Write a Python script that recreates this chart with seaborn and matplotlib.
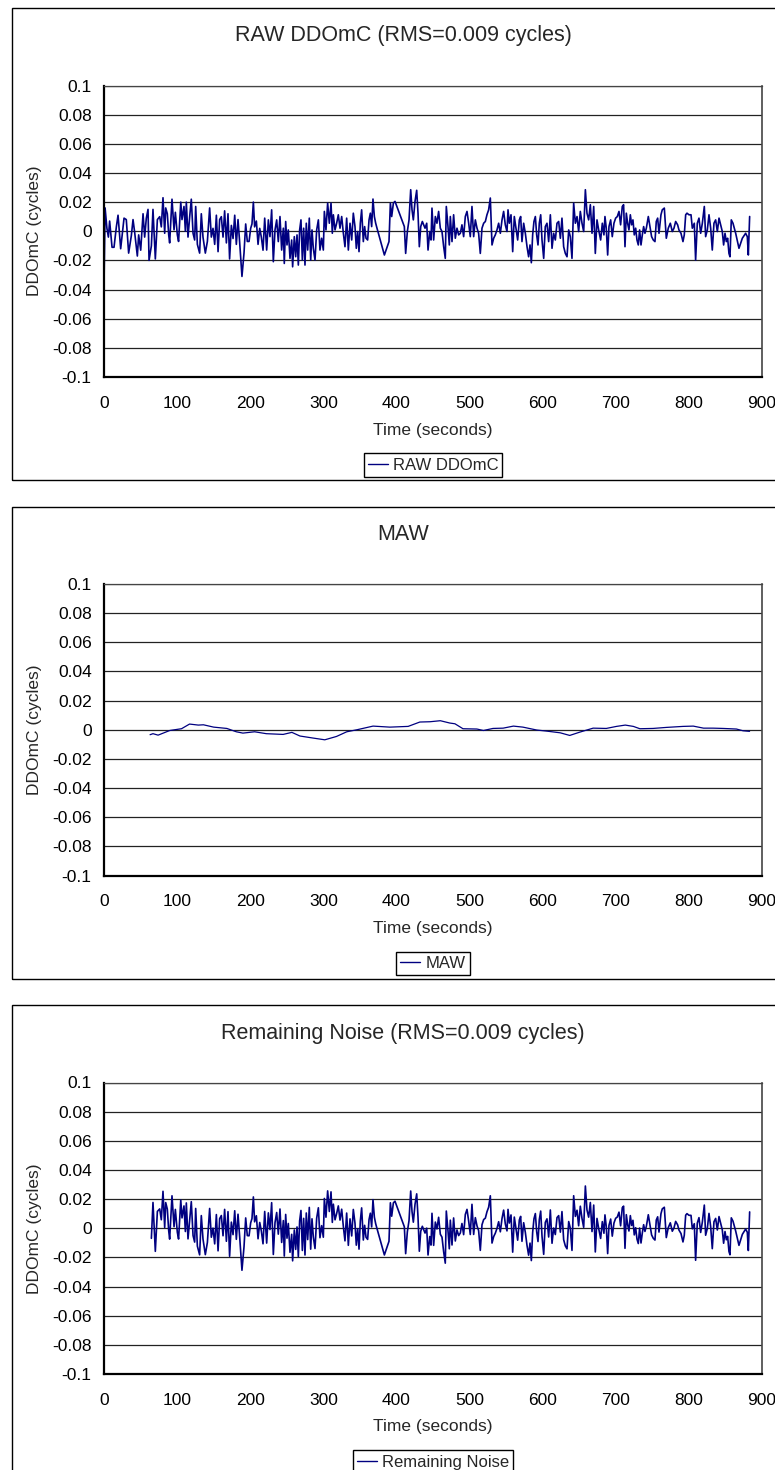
import numpy as np
import pandas as pd
import matplotlib
matplotlib.use("Agg")
import matplotlib.pyplot as plt
from matplotlib.patches import Rectangle
import seaborn as sns

# Raw double-difference observed-minus-computed phase (cycles) vs time (s)
raw_t = [0, 1.5, 4, 6, 7.7, 11, 13.7, 16.9, 19.2, 22.8, 26, 27.4, 30.5, 33.7, 37.4, 39.7,
         42, 45.6, 47.4, 50.2, 53.4, 55.6, 57.9, 60.2, 61.6, 64.8, 67, 70.2, 73, 76.2, 78.4,
         80.7, 83, 84.4, 86.6, 88.5, 89.8, 93, 95.8, 97.6, 100.3, 102, 105, 106.7, 109.4,
         111.3, 112.6, 114.9, 117.2, 119.4, 121.8, 124, 125.4, 127.7, 130.8, 133.1, 135.4,
         138.6, 141.4, 144.5, 146.8, 149.1, 151.4, 153.7, 156, 158.2, 160.5, 162.8, 165,
         167.4, 169.6, 171.8, 174.2, 176.5, 178.8, 181, 183.3, 185.6, 188.7, 191.5, 193.8,
         196, 198.4, 200.6, 202.4, 204.3, 206, 208.4, 210.7, 213, 215.2, 217.5, 219.8,
         222.5, 224.8, 227.0, 229.3, 231.6, 233.9, 236.2, 238.4, 240.7, 243.0, 245.3, 246.6,
         248.5, 250.3, 252.1, 254.4, 256.7, 258.0, 260.3, 262.2, 264.0, 265.8, 267.6, 269.4,
         271.3, 273.1, 274.9, 276.7, 278.6, 280.8, 282.7, 284.5, 286.3, 288.6, 290.9, 293.2,
         295.4, 297.7, 300.0, 301.4, 303.6, 305.9, 308.2, 310.5, 312.3, 313.7, 316.0, 318.2,
         320.5, 322.8, 325.1, 327.4, 329.6, 331.9, 334.2, 336.5, 338.8, 341.0, 343.3, 345.1,
         347.0, 348.8, 350.6, 352.4, 354.7, 356.5, 358.4, 360.6, 362.5, 364.3, 366.1, 367.9,
         369.8, 371.6, 373.4, 383.5, 389.8, 391.7, 393.5, 395.8, 398.0, 410.8, 412.6, 414.9,
         417.2, 419.5, 421.3, 423.1, 425.4, 427.7, 429.5, 431.3, 433.2, 435.4, 437.3, 439.1,
         441.4, 443.2, 445.5, 447.3,
         448.6, 450.9, 453.2, 455.4, 457.7, 460.0, 462.3, 464.6, 466.8, 468.2, 470.5, 472.3,
         473.7, 476.0, 478.2, 480.5, 482.8, 485.1, 487.4, 489.6, 491.9, 494.2, 496.5, 498.8,
         501.0, 503.3, 505.6, 507.9, 510.2, 512.4, 514.7, 517.0, 519.3, 521.6, 523.8, 526.1,
         528.4, 530.7, 533.0, 535.2, 537.5, 539.8, 542.1, 544.4, 546.6, 548.9, 551.2, 552.6,
         554.4, 556.7, 559.0, 561.2, 563.5, 565.8, 568.1, 569.9, 571.7, 574.0, 576.3, 578.6,
         580.8, 582.7, 584.5, 586.3, 588.1, 590.0, 591.8, 593.6, 595.4, 597.3, 599.1, 601.4,
         603.6, 605.9, 608.2, 610.5, 612.8, 615.0, 617.3, 619.6, 621.9, 624.2, 626.4, 628.7,
         631.0, 633.3, 635.6, 637.8, 640.1, 642.4, 644.7, 647.0, 649.2, 651.5, 653.8, 656.1,
         658.4, 660.6, 662.9, 665.2, 667.5, 669.8, 672.0, 674.3, 676.6,
         679.3, 681.6, 683.8, 685.2, 687.0, 688.9, 690.7, 693.0, 695.2, 697.5, 699.8, 702.1,
         704.4, 706.6, 708.9, 710.7, 712.6, 714.4, 716.2, 718.0, 719.9, 721.7, 723.5, 725.3,
         727.2, 729.0, 730.8, 732.6, 734.5, 736.3, 738.1, 739.9, 741.8, 744.5, 746.8, 749.0,
         751.3, 753.6, 755.4, 757.3, 759.1, 761.8, 763.6, 766.4, 769.1, 771.8, 774.6, 777.3,
         779.6, 781.9, 784.6, 786.4, 789.2, 791.9, 793.7, 795.6, 797.4, 800.1, 802.9, 804.7,
         807.4, 809.2, 811.5, 813.8, 816.1, 818.4, 821.1, 822.9, 825.2, 827.5, 829.8, 832.0,
         834.3, 836.6, 838.9, 841.2, 843.4, 845.7, 847.5, 849.4, 851.2, 853.0, 854.8, 856.2,
         858.0, 860.3, 864.0, 868.5, 873.1, 877.6, 879.9, 881.3, 883.1]
raw_v = [-0.037, 0.016, 0.002, -0.004, 0.007, -0.011, -0.011, 0.003, 0.011, -0.012, 0.003, 0.009,
         0.008, -0.015, -0.003, 0.008, -0.001, -0.017, -0.0025, -0.013, 0.012, -0.004, 0.009,
         0.015, -0.020, -0.010, 0.015, -0.019, 0.008, 0.010, 0.003, 0.023, -0.0014, 0.016,
         0.012, -0.0025, -0.008, 0.022, 0.001, 0.013, -0.0025, -0.007, 0.020, 0.008, 0.017,
         0.000, 0.020, -0.004, 0.010, 0.022, -0.0014, -0.006, 0.017, -0.009, -0.015, 0.012,
         -0.004, -0.015, -0.007, 0.016, -0.004, 0.002, -0.009, 0.011, -0.014, 0.008, 0.010,
         -0.004, 0.014, -0.008, 0.012, -0.019, 0.004, -0.005, 0.011, -0.009, 0.008, -0.008,
         -0.031, -0.015, 0.005, -0.007, -0.007, 0.002, 0.005, 0.020, 0.003, 0.007, -0.009,
         0.002, -0.004, -0.013, 0.009,
         -0.0129, 0.0078, -0.0037, 0.0147, -0.0209, 0.0009, 0.0078, -0.0071, 0.0101, -0.0129,
         0.0021, -0.0221, 0.0067, -0.0094, 0.0009, -0.0186, -0.0060, -0.0244, -0.0037, -0.0175,
         -0.0025, -0.0232, 0.0009, 0.0078, -0.0198, 0.0021, -0.0232, 0.0055, -0.0129, 0.0090,
         -0.0198, 0.0009, -0.0117, -0.0198, 0.0009, 0.0078, -0.0129, -0.0048, -0.0129, 0.0136,
         0.0009, 0.0193, 0.0055, 0.0193, -0.0014, 0.0113, 0.0009, 0.0055, 0.0113, 0.0021,
         0.0101, -0.0014, -0.0106, 0.0090, -0.0129, 0.0055, -0.0060, 0.0124, 0.0032, -0.0117,
         -0.0002, -0.0140, 0.0055, 0.0147, -0.0071, 0.0032, -0.0048, -0.0060, 0.0078, 0.0124,
         0.0032, 0.0221, 0.0101, 0.0055, 0.0021, -0.0163, -0.0071, 0.0193, 0.0101, 0.0193,
         0.0205, 0.0032, -0.0152, -0.0002, 0.0078, 0.0285, 0.0147, 0.0078, 0.0205, 0.0281,
         0.0124, -0.0106, 0.0032, 0.0067, 0.0044, 0.0021, 0.0055, -0.0129, -0.0002, -0.0060,
         0.0159, -0.0060, 0.0101, 0.0055, 0.0136, 0.0021, -0.0002, -0.0106, -0.0186, 0.0170,
         0.0032, -0.0094, 0.0101, -0.0071, 0.0113, -0.0048, 0.0021, -0.0025, -0.0014, 0.0044,
         -0.0037, 0.0101, 0.0136, 0.0055, -0.0037, 0.0170, -0.0037, 0.0078, 0.0021, -0.0014,
         -0.0152, 0.0021, 0.0055, 0.0067, 0.0113, 0.0147, 0.0228, -0.0094, -0.0048, -0.0025,
         0.0009, 0.0055, -0.0014, 0.0078, 0.0136, 0.0044, -0.0002, 0.0147, 0.0055, 0.0113,
         -0.0140, 0.0101, 0.0021, -0.0060, 0.0078, 0.0101, -0.0071, 0.0055, -0.0014, -0.0106,
         -0.0175, -0.0094, -0.0216, -0.0025, 0.0067, 0.0101, -0.0025, -0.0094, 0.0055, 0.0113,
         -0.0060, -0.0186, 0.0032, 0.0055, -0.0071, 0.0113, -0.0117, -0.0014, -0.0060, 0.0055,
         0.0067, -0.0048, 0.0090, -0.0106, -0.0152, -0.0175, 0.0009, -0.0037, -0.0186, 0.0193,
         0.0055, 0.0101, -0.0002, 0.0136, 0.0055, -0.0002, 0.0285, 0.0124, 0.0078, 0.0182,
         -0.0014, 0.0170, -0.0152, 0.0078, 0.0009,
         -0.0060, 0.0055, -0.0025, 0.0101, 0.0021, -0.0163, 0.0032, 0.0078, -0.0037, 0.0055,
         0.0090, 0.0101, 0.0136, 0.0044, 0.0170, 0.0182, -0.0106, 0.0124, 0.0055, 0.0009,
         0.0113, 0.0044, 0.0078, -0.0025, 0.0021, -0.0060, -0.0094, 0.0009, -0.0094, -0.0025,
         0.0032, -0.0014, 0.0021, 0.0101, 0.0032, -0.0037, -0.0060, -0.0071, 0.0067, 0.0090,
         -0.0014, 0.0113, 0.0147, 0.0159, -0.0048, 0.0021, 0.0055, -0.0002, 0.0021, 0.0067,
         0.0044, 0.0009, -0.0014, -0.0071, -0.0025, 0.0113, 0.0124, 0.0113, 0.0113, 0.0021,
         0.0055, -0.0198, 0.0055, 0.0090, -0.0014, 0.0055, 0.0170, -0.0037, 0.0009, 0.0113,
         0.0021, -0.0129, 0.0055, 0.0078, -0.0002, 0.0090, 0.0044, -0.0002, -0.0094, -0.0014,
         -0.0071, -0.0048, -0.0152, -0.0175, 0.0078, 0.0055, -0.0014, -0.0117, -0.0048,
         -0.0014, -0.0037, -0.0163, 0.0101]

# Moving-average wander (MAW) of the same observable
maw_t = [63, 67, 74, 90, 106, 117, 129, 136, 150, 168, 181, 190, 206, 222, 245, 257, 268,
         286, 302, 318, 332, 346, 368, 391, 416, 432, 446, 460, 473, 480, 491, 510, 519, 532,
         546, 560, 573, 592, 605, 624, 637, 651, 669, 687, 701, 713, 724, 733, 751, 769, 792,
         806, 820, 833, 847, 865, 874, 883]
maw_v = [-0.0034, -0.0027, -0.0037, -0.0005, 0.0007, 0.0039, 0.0032, 0.0034, 0.0018, 0.0009,
         -0.0014, -0.0023, -0.0014, -0.0027, -0.0032, -0.0018, -0.0043, -0.0057, -0.0069,
         -0.0046, -0.0014, 0.0, 0.0025, 0.0018, 0.0023, 0.0053, 0.0055, 0.0062, 0.0046, 0.0041,
         0.0007, 0.0005, -0.0005, 0.0009, 0.0011, 0.0025, 0.0018, -0.0002, -0.0009, -0.0021,
         -0.0039, -0.0016, 0.0011, 0.0009, 0.0023, 0.0032, 0.0023, 0.0007, 0.0009, 0.0016,
         0.0023, 0.0025, 0.0011, 0.0011, 0.0009, 0.0005, -0.0007, -0.0011]

titles = ["RAW DDOmC (RMS=0.009 cycles)", "MAW", "Remaining Noise (RMS=0.009 cycles)"]
series_names = ["RAW DDOmC", "MAW", "Remaining Noise"]
x_ticks = [0, 100, 200, 300, 400, 500, 600, 700, 800, 900]
y_ticks = [0.1, 0.08, 0.06, 0.04, 0.02, 0, -0.02, -0.04, -0.06, -0.08, -0.1]
y_tick_labels = ["0.1", "0.08", "0.06", "0.04", "0.02", "0",
                 "-0.02", "-0.04", "-0.06", "-0.08", "-0.1"]
x_label = "Time (seconds)"
y_label = "DDOmC (cycles)"

# Residual noise: raw observable minus its moving-average wander
raw_t_arr = np.array(raw_t)
raw_v_arr = np.array(raw_v)
keep = raw_t_arr >= maw_t[0]
noise_t = raw_t_arr[keep]
noise_v = raw_v_arr[keep] - np.interp(noise_t, maw_t, maw_v)

frames = [
    pd.DataFrame({"t": raw_t, "v": raw_v}),
    pd.DataFrame({"t": maw_t, "v": maw_v}),
    pd.DataFrame({"t": noise_t, "v": noise_v}),
]

sns.set_style("white")
plt.rcParams["font.family"] = ["Liberation Sans", "DejaVu Sans"]

W, H = 775, 1470
fig = plt.figure(figsize=(W / 100, H / 100), dpi=100)

LINE = "#000080"
STEP = 498.5
for k in range(3):
    off = k * STEP
    top, bottom = 85.5 + off, 377 + off
    left, right = 104, 762

    # chart-area border
    fig.add_artist(Rectangle((12 / W, 1 - (480 + off) / H), (800 - 12) / W, 472 / H,
                             transform=fig.transFigure, fill=False, ec="black", lw=1.0))
    fig.text(403 / W, 1 - (36 + off) / H, titles[k], ha="center", va="center", fontsize=15.5)

    ax = fig.add_axes([left / W, 1 - bottom / H, (right - left) / W, (bottom - top) / H])
    sns.lineplot(data=frames[k], x="t", y="v", ax=ax, color=LINE,
                 lw=1.2 if k != 1 else 0.9,
                 estimator=None, sort=False, label=series_names[k])

    ax.set_xlim(0, 900)
    ax.set_ylim(-0.1, 0.1)
    ax.set_xticks(x_ticks)
    ax.set_xticklabels([str(v) for v in x_ticks])
    ax.set_yticks(y_ticks)
    ax.set_yticklabels(y_tick_labels)
    ax.yaxis.grid(True, color="#222222", lw=0.9)
    ax.xaxis.grid(False)
    ax.set_axisbelow(True)

    for side in ("left", "bottom"):
        ax.spines[side].set_color("black")
        ax.spines[side].set_linewidth(1.6)
    ax.spines["top"].set_color("#444444")
    ax.spines["top"].set_linewidth(0.9)
    ax.spines["right"].set_color("#444444")
    ax.spines["right"].set_linewidth(1.2)

    ax.tick_params(axis="both", direction="out", length=3.6, width=1, color="black",
                   labelsize=12.5, labelcolor="black")
    ax.tick_params(axis="x", pad=10)
    ax.tick_params(axis="y", pad=5.3)

    ax.set_xlabel(x_label, fontsize=12.5)
    ax.xaxis.set_label_coords(0.5, -53 / (bottom - top))
    ax.xaxis.label.set_va("center")
    ax.set_ylabel(y_label, fontsize=12.5)
    ax.yaxis.set_label_coords((35 - left) / (right - left), 0.5)
    ax.yaxis.label.set_va("center")

    leg = ax.legend(loc="center", bbox_to_anchor=(0.5, -(465 - 377) / (bottom - top)),
                    fontsize=12, frameon=True, fancybox=False, shadow=False,
                    handlelength=1.2, handletextpad=0.3, borderpad=0.25, borderaxespad=0)
    leg.get_frame().set_edgecolor("black")
    leg.get_frame().set_linewidth(1.0)
    leg.get_frame().set_alpha(1)
    for h in leg.get_lines():
        h.set_linewidth(1.0)

fig.savefig("out.png", dpi=100)
